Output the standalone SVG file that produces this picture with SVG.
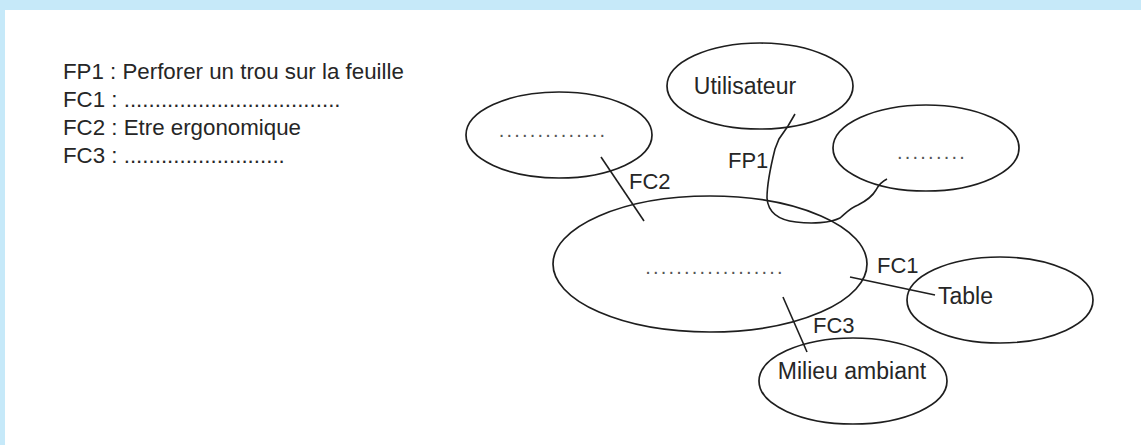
<svg xmlns="http://www.w3.org/2000/svg" width="1141" height="445" viewBox="0 0 1141 445">
<style>
.bg{fill:#ffffff}
.frame{fill:#c6e9f9}
.node ellipse{fill:none;stroke:#1e1e1e;stroke-width:1.7}
.t{font-family:"Liberation Sans",Arial,sans-serif;font-size:22.3px;fill:#262626}
.n{font-family:"Liberation Sans",Arial,sans-serif;font-size:23px;fill:#262626}
.dots{font-family:"Liberation Sans",Arial,sans-serif;font-size:20px;fill:#555;letter-spacing:2.2px}
.lbl{font-family:"Liberation Sans",Arial,sans-serif;font-size:22px;fill:#262626}
.conn line,.conn path{fill:none;stroke:#1e1e1e;stroke-width:1.6}
</style>
<rect class="bg" x="0" y="0" width="1141" height="445"/>
<rect class="frame" x="0" y="0" width="1141" height="10"/>
<rect class="frame" x="0" y="0" width="5" height="445"/>

<g id="legend">
<text class="t" x="63" y="79">FP1 : Perforer un trou sur la feuille</text>
<text class="t" x="63" y="107">FC1 : ...................................</text>
<text class="t" x="63" y="135">FC2 : Etre ergonomique</text>
<text class="t" x="63" y="163">FC3 : ..........................</text>
</g>

<g id="node-utilisateur" class="node">
<ellipse cx="760" cy="86" rx="93" ry="43"/>
<text class="n" x="745" y="94" text-anchor="middle">Utilisateur</text>
</g>
<g id="node-left" class="node">
<ellipse cx="559" cy="135" rx="93" ry="43"/>
<text class="dots" x="553" y="137" text-anchor="middle">..............</text>
</g>
<g id="node-right" class="node">
<ellipse cx="926" cy="148" rx="93" ry="43"/>
<text class="dots" x="932" y="159" text-anchor="middle">.........</text>
</g>
<g id="node-center" class="node">
<ellipse cx="710" cy="264" rx="157" ry="68"/>
<text class="dots" x="715" y="274" text-anchor="middle">..................</text>
</g>
<g id="node-table" class="node">
<ellipse cx="1000" cy="300" rx="93" ry="43"/>
<text class="n" x="938" y="304">Table</text>
</g>
<g id="node-milieu" class="node">
<ellipse cx="853" cy="381" rx="94" ry="43"/>
<text class="n" x="852" y="379" text-anchor="middle">Milieu ambiant</text>
</g>

<g id="connectors" class="conn">
<line x1="601" y1="157" x2="644" y2="221"/>
<path d="M795,114 L788,126 L779,139 L775,149 C771,165 767,185 767,198 C768,212 778,220 796,222 C812,224 830,223 840,218 C846,213 850,208 858,205 C866,201 872,197 876,190 C879,184 883,181 887,179"/>
<line x1="850" y1="277" x2="935" y2="295"/>
<line x1="783" y1="297" x2="807" y2="352"/>
<text class="lbl" x="629" y="189">FC2</text>
<text class="lbl" x="728" y="168">FP1</text>
<text class="lbl" x="877" y="273">FC1</text>
<text class="lbl" x="813" y="333">FC3</text>
</g>
</svg>
